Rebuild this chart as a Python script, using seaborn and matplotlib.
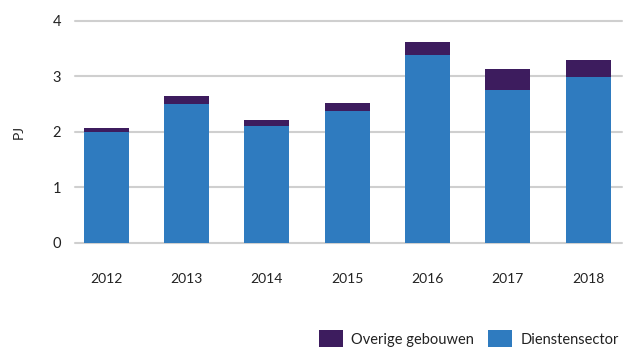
import matplotlib
matplotlib.use("Agg")
import matplotlib.pyplot as plt
from matplotlib.patches import Patch
import seaborn as sns
import pandas as pd

# Energy use in PJ per year
years = ["2012", "2013", "2014", "2015", "2016", "2017", "2018"]
dienstensector = [2.00, 2.50, 2.10, 2.38, 3.39, 2.76, 2.99]
overige_gebouwen = [0.07, 0.15, 0.11, 0.14, 0.22, 0.38, 0.31]

blue = "#2f7bbf"
purple = "#3d1c5e"
grid_color = "#cfcfcf"
text_color = "#222222"

sns.set_theme(style="white")
plt.rcParams["font.family"] = ["Lato", "DejaVu Sans"]

df = pd.DataFrame({
    "jaar": years,
    "dienst": dienstensector,
    "overig": overige_gebouwen,
})
df["totaal"] = df["dienst"] + df["overig"]

fig = plt.figure(figsize=(6.23, 3.47), dpi=100)
ax = fig.add_axes([0.120, 0.300, 0.878, 0.640])

# Stacked bars: the total drawn first, the services sector on top of it
sns.barplot(data=df, x="jaar", y="totaal", color=purple, saturation=1,
            width=0.56, linewidth=0, edgecolor="none", ax=ax, zorder=3)
sns.barplot(data=df, x="jaar", y="dienst", color=blue, saturation=1,
            width=0.56, linewidth=0, edgecolor="none", ax=ax, zorder=4)

ax.set_ylim(0, 4)
ax.set_xlim(-0.39, 6.42)
ax.set_yticks([0, 1, 2, 3, 4])
ax.yaxis.grid(True, color=grid_color, linewidth=1.5, zorder=0)
for gl in ax.get_ygridlines():
    gl.set_clip_on(False)
for s in ax.spines.values():
    s.set_visible(False)

ax.set_xlabel("")
ax.set_ylabel("PJ", fontsize=10, color=text_color, labelpad=20)
ax.tick_params(axis="y", length=0, pad=10, labelsize=10.5, labelcolor=text_color)
ax.tick_params(axis="x", length=0, pad=22, labelsize=10, labelcolor=text_color)

handles = [Patch(facecolor=purple, edgecolor="none", label="Overige gebouwen"),
           Patch(facecolor=blue, edgecolor="none", label="Dienstensector")]
fig.legend(handles=handles, loc="lower right", bbox_to_anchor=(1.014, -0.04),
           ncol=2, frameon=False, fontsize=10.5, handlelength=1.65,
           handleheight=1.45, handletextpad=0.55, columnspacing=1.0,
           labelcolor=text_color)

fig.savefig("out.png", dpi=100)
